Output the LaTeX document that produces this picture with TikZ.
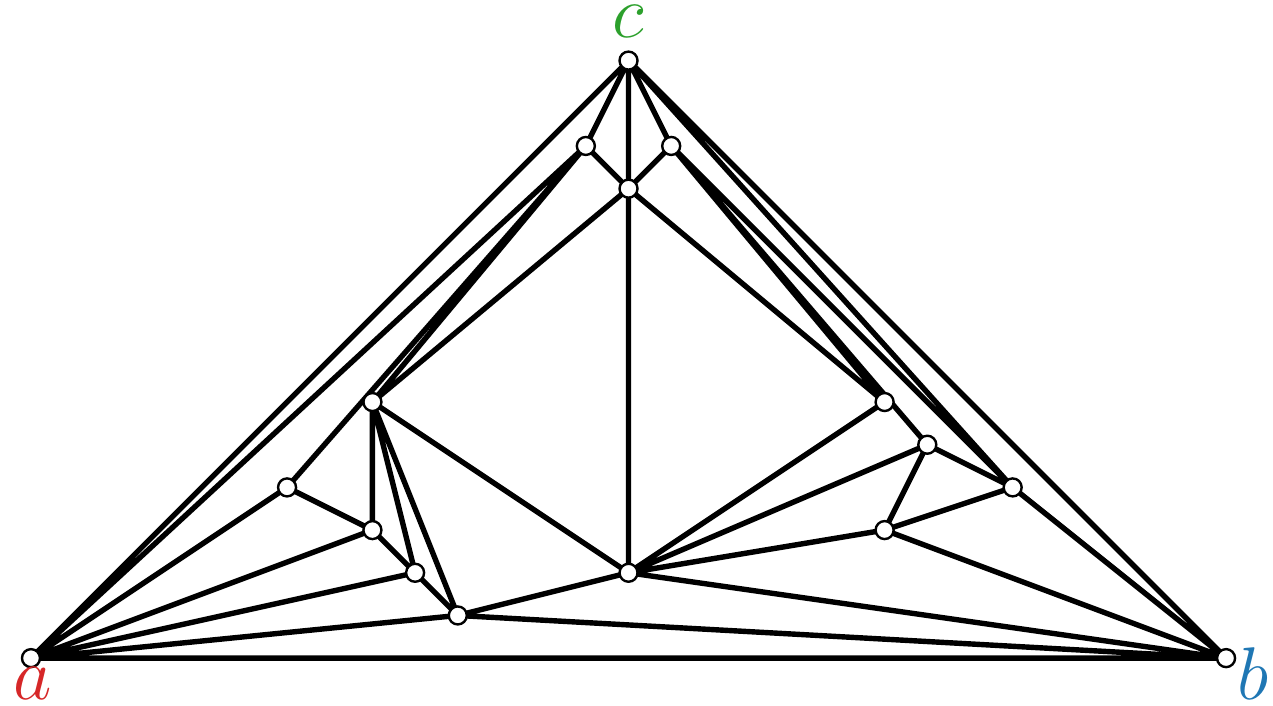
\documentclass[tikz,border=0pt]{standalone}
\usepackage{xcolor}
\usepackage{tikz}
\usetikzlibrary{backgrounds}

\definecolor{tabred}{RGB}{214,39,40}
\definecolor{tabblue}{RGB}{31,119,180}
\definecolor{tabgreen}{RGB}{44,160,44}

\begin{document}
\begin{tikzpicture}[x=0.5cm, y=0.5cm,
    vertex/.style={circle, draw, fill=white, inner sep=0pt, minimum size=6pt, line width=0.8pt},
    edge/.style={line width=1.8pt},
    tag/.style={font=\fontsize{24}{28}\selectfont, anchor=base, inner sep=0pt}]
    \useasboundingbox (-0.726,-1.10) rectangle (29.10,15.42);

    % outer triangle
    \node[vertex] (a) at (0,0) {};
    \node[vertex] (b) at (28,0) {};
    \node[vertex] (c) at (14,14) {};
    % top cluster
    \node[vertex] (p1) at (13,12) {};
    \node[vertex] (p2) at (15,12) {};
    \node[vertex] (p3) at (14,11) {};
    \node[vertex] (m) at (14,2) {};
    % left cluster
    \node[vertex] (l1) at (8,6) {};
    \node[vertex] (l2) at (6,4) {};
    \node[vertex] (l3) at (8,3) {};
    \node[vertex] (l4) at (9,2) {};
    \node[vertex] (l5) at (10,1) {};
    % right cluster
    \node[vertex] (r1) at (20,6) {};
    \node[vertex] (r2) at (21,5) {};
    \node[vertex] (r3) at (23,4) {};
    \node[vertex] (r4) at (20,3) {};

    \node[tag, text=tabred] (la) at (0.05,-0.98) {$a$};
    \node[tag, text=tabblue] (lb) at (28.63,-0.98) {$b$};
    \node[tag, text=tabgreen] (lc) at (14,14.55) {$c$};

    \begin{pgfonlayer}{background}
    \draw[edge] (a.center) -- (b.center) (a.center) -- (c.center) (b.center) -- (c.center)
        (a.center) -- (p1.center) (a.center) -- (l2.center) (a.center) -- (l3.center)
        (a.center) -- (l4.center) (a.center) -- (l5.center)
        (c.center) -- (p1.center) (c.center) -- (p3.center) (c.center) -- (p2.center)
        (c.center) -- (r3.center)
        (p1.center) -- (p3.center) (p1.center) -- (l1.center) (p1.center) -- (l2.center)
        (p2.center) -- (p3.center) (p2.center) -- (r1.center) (p2.center) -- (r2.center)
        (p2.center) -- (r3.center)
        (p3.center) -- (l1.center) (p3.center) -- (m.center) (p3.center) -- (r1.center)
        (l1.center) -- (l3.center) (l1.center) -- (l4.center) (l1.center) -- (l5.center)
        (l1.center) -- (m.center)
        (l2.center) -- (l3.center) (l3.center) -- (l4.center) (l4.center) -- (l5.center)
        (l5.center) -- (m.center) (l5.center) -- (b.center)
        (m.center) -- (r1.center) (m.center) -- (r2.center) (m.center) -- (r4.center)
        (m.center) -- (b.center)
        (r2.center) -- (r3.center) (r2.center) -- (r4.center) (r3.center) -- (r4.center)
        (r3.center) -- (b.center) (r4.center) -- (b.center);
    \end{pgfonlayer}
\end{tikzpicture}
\end{document}
